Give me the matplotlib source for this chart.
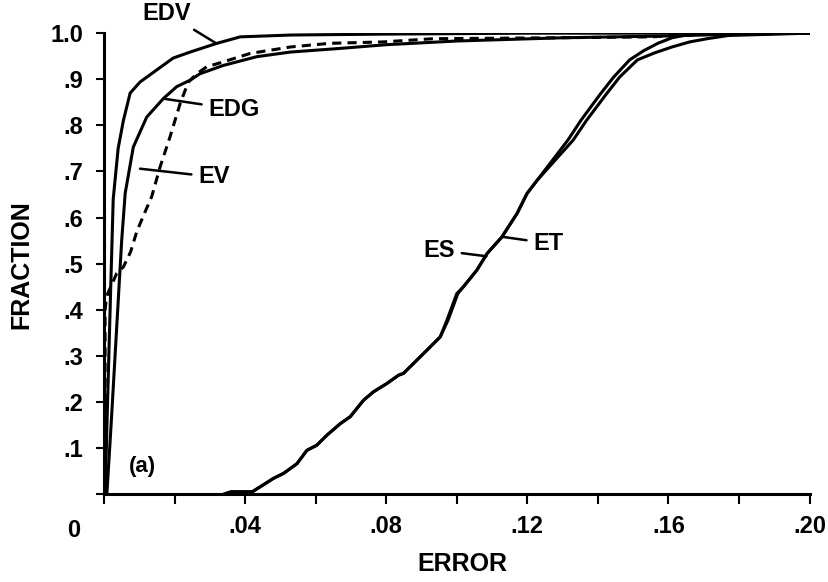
import matplotlib
matplotlib.use("Agg")
import matplotlib.pyplot as plt

plt.rcParams['font.family'] = ['Liberation Sans', 'DejaVu Sans']
plt.rcParams['font.weight'] = 'bold'

# cumulative fraction of cases vs error
edv_x = [0.0003, 0.0010, 0.0019, 0.0026, 0.0040, 0.0055, 0.0074, 0.0102, 0.0149,
         0.0196, 0.0244, 0.0320, 0.0386, 0.0530, 0.0800, 0.1200, 0.2000]
edv_y = [0.0, 0.20, 0.45, 0.64, 0.75, 0.811, 0.870, 0.894, 0.920,
         0.946, 0.959, 0.978, 0.992, 0.996, 0.998, 1.0, 1.0]

edg_x = [0.0008, 0.0020, 0.0035, 0.0050, 0.0060, 0.0083, 0.0121, 0.0168, 0.0206,
         0.0244, 0.0272, 0.0338, 0.0433, 0.0528, 0.0670, 0.0800, 0.1000, 0.1300,
         0.1600, 0.1800, 0.2000]
edg_y = [0.0, 0.15, 0.35, 0.55, 0.653, 0.753, 0.818, 0.858, 0.884,
         0.898, 0.912, 0.930, 0.949, 0.959, 0.967, 0.975, 0.983, 0.990,
         0.994, 0.998, 1.0]

ev_x = [0.0003, 0.0003, 0.0006, 0.0011, 0.0036, 0.0055, 0.0075, 0.0093, 0.0115,
        0.0135, 0.0159, 0.0187, 0.0216, 0.0239, 0.0263, 0.0291, 0.0339, 0.0414,
        0.0528, 0.0640, 0.0790, 0.0933, 0.1270, 0.1550, 0.1700, 0.2000]
ev_y = [0.0, 0.40, 0.42, 0.436, 0.479, 0.493, 0.525, 0.570, 0.610,
        0.645, 0.710, 0.775, 0.848, 0.894, 0.912, 0.927, 0.938, 0.956,
        0.970, 0.978, 0.981, 0.988, 0.990, 0.992, 0.998, 1.0]

es_x = [0.034, 0.036, 0.042, 0.0443, 0.048, 0.0509, 0.0547, 0.0575, 0.0603, 0.0632,
        0.067, 0.0698, 0.0736, 0.0764, 0.0802, 0.0835, 0.0849, 0.0915, 0.0953,
        0.0972, 0.1000, 0.1019, 0.1057, 0.1086, 0.1128, 0.1171, 0.1199, 0.1228,
        0.1315, 0.1352, 0.1408, 0.1445, 0.1490, 0.1530, 0.1570, 0.1610, 0.1650,
        0.1700, 0.2000]
es_y = [0.0, 0.005, 0.005, 0.016, 0.034, 0.045, 0.066, 0.095, 0.106, 0.128,
        0.153, 0.168, 0.204, 0.222, 0.240, 0.258, 0.262, 0.312, 0.341,
        0.377, 0.435, 0.450, 0.486, 0.522, 0.558, 0.609, 0.652, 0.681,
        0.768, 0.811, 0.869, 0.905, 0.942, 0.962, 0.978, 0.990, 0.996,
        0.998, 1.0]

et_x = [0.034, 0.036, 0.042, 0.0443, 0.048, 0.0509, 0.0547, 0.0575, 0.0603, 0.0632,
        0.067, 0.0698, 0.0736, 0.0764, 0.0802, 0.0835, 0.0849, 0.0915, 0.0953,
        0.0975, 0.1003, 0.1019, 0.1057, 0.1086, 0.1128, 0.1171, 0.1199, 0.1228,
        0.1330, 0.1368, 0.1425, 0.1462, 0.1512, 0.1560, 0.1610, 0.1660, 0.1710,
        0.1770, 0.2000]
et_y = [0.0, 0.005, 0.005, 0.016, 0.034, 0.045, 0.066, 0.095, 0.106, 0.128,
        0.153, 0.168, 0.204, 0.222, 0.240, 0.258, 0.262, 0.312, 0.341,
        0.377, 0.435, 0.450, 0.486, 0.522, 0.558, 0.609, 0.652, 0.681,
        0.768, 0.811, 0.869, 0.905, 0.942, 0.957, 0.970, 0.981, 0.988,
        0.995, 1.0]

x_ticks = [0.04, 0.08, 0.12, 0.16, 0.20]
x_tick_labels = ['.04', '.08', '.12', '.16', '.20']
y_ticks = [0.0, 0.1, 0.2, 0.3, 0.4, 0.5, 0.6, 0.7, 0.8, 0.9, 1.0]
y_tick_labels = ['', '.1', '.2', '.3', '.4', '.5', '.6', '.7', '.8', '.9', '1.0']

# label text position, point on curve
labels = {
    'EDV': ((0.0179, 1.043), (0.032, 0.977)),
    'EDG': ((0.0369, 0.835), (0.0168, 0.858)),
    'EV': ((0.0312, 0.688), (0.0102, 0.706)),
    'ES': ((0.0950, 0.529), (0.1084, 0.516)),
    'ET': ((0.1260, 0.544), (0.1131, 0.558)),
}

fig = plt.figure(figsize=(8.29, 5.82), dpi=100)
ax = fig.add_axes([0.1255, 0.151, 0.851, 0.792])

lw = 2.2
ax.plot(edv_x, edv_y, color='black', lw=lw)
ax.plot(edg_x, edg_y, color='black', lw=lw)
ax.plot(ev_x, ev_y, color='black', lw=lw, ls=(0, (3, 2)))
ax.plot(es_x, es_y, color='black', lw=lw)
ax.plot(et_x, et_y, color='black', lw=lw)

for name, (txt, pt) in labels.items():
    ax.annotate(name, xy=pt, xytext=txt, ha='center', va='center',
                fontsize=17, fontweight='bold', annotation_clip=False,
                arrowprops=dict(arrowstyle='-', lw=1.8, color='black',
                                shrinkA=3, shrinkB=0))

ax.text(0.0108, 0.06, '(a)', fontsize=16, ha='center', va='center')

ax.set_xlim(0, 0.20)
ax.set_ylim(0, 1.0)
ax.set_xticks(x_ticks)
ax.set_xticklabels(x_tick_labels)
ax.set_xticks([0.0, 0.02, 0.06, 0.10, 0.14, 0.18], minor=True)
ax.set_yticks(y_ticks)
ax.set_yticklabels(y_tick_labels)

ax.tick_params(axis='x', which='both', direction='out', length=7, width=1.5,
               pad=8, labelsize=17)
ax.tick_params(axis='y', direction='out', length=6, width=1.5, pad=9,
               labelsize=17)

for side in ['top', 'right']:
    ax.spines[side].set_visible(False)
for side in ['left', 'bottom']:
    ax.spines[side].set_linewidth(2.2)

ax.text(-0.043, -0.080, '0', transform=ax.transAxes, fontsize=17,
        ha='center', va='center')

ax.set_xlabel('ERROR', fontsize=18, fontweight='bold')
ax.set_ylabel('FRACTION', fontsize=18, fontweight='bold')
ax.xaxis.set_label_coords(0.508, -0.125)
ax.yaxis.set_label_coords(-0.1, 0.497)

fig.savefig('out.png', dpi=100)
